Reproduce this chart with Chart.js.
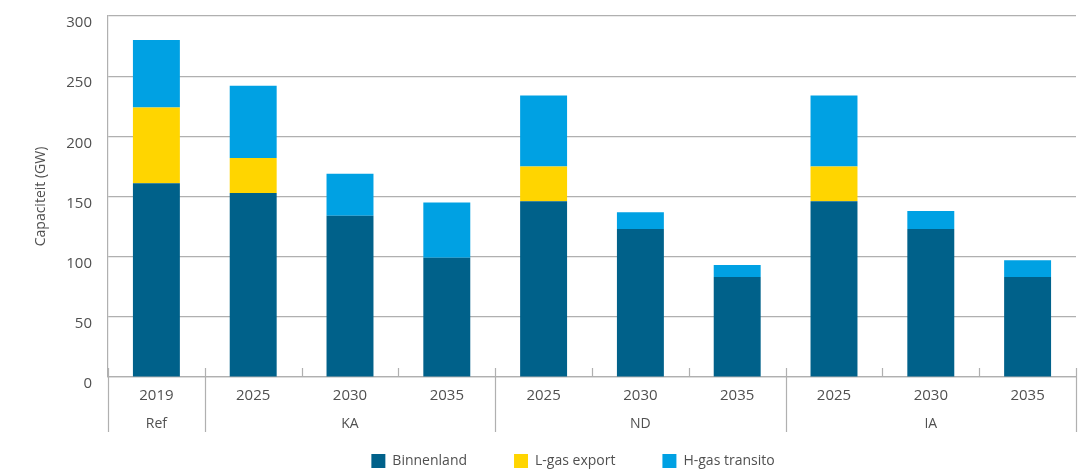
<!DOCTYPE html>
<html>
<head>
<meta charset="utf-8">
<script src="https://cdn.jsdelivr.net/npm/chart.js@4/dist/chart.umd.min.js"></script>
<style>
  html, body { margin: 0; padding: 0; background: #ffffff; }
  #wrap { width: 1078px; height: 473px; position: relative; }
</style>
</head>
<body>
<div id="wrap"><canvas id="c" width="1078" height="473"></canvas></div>
<script>
// ---- data ----
const years = ['2019', '2025', '2030', '2035', '2025', '2030', '2035', '2025', '2030', '2035'];
const groups = ['Ref', 'KA', 'KA', 'KA', 'ND', 'ND', 'ND', 'IA', 'IA', 'IA'];
const binnenland = [161, 153, 134, 99, 146, 123, 83, 146, 123, 83];
const lgasExport = [63, 29, 0, 0, 29, 0, 0, 29, 0, 0];
const hgasTransito = [56, 60, 35, 46, 59, 14, 10, 59, 15, 14];
const yTicks = [0, 50, 100, 150, 200, 250, 300];

const FONT = "'Open Sans', 'Noto Sans', sans-serif";
const TEXT = '#505050';
const GRID = '#b0b0b0';

const groupAxisPlugin = {
  id: 'groupAxis',
  afterLayout(chart) {
    // nudge the legend block slightly left, as in the reference
    if (chart.legend) { chart.legend.left -= 19; chart.legend.right -= 19; }
  },
  afterDraw(chart) {
    const ctx = chart.ctx;
    const x = chart.scales.x;
    const area = chart.chartArea;
    const n = years.length;
    const px = i => x.getPixelForValue(i);
    const boundary = i => {
      if (i === 0) return area.left;
      if (i === n) return area.right;
      return (px(i - 1) + px(i)) / 2;
    };
    ctx.save();
    ctx.strokeStyle = GRID;
    ctx.lineWidth = 1.2;
    for (let i = 0; i <= n; i++) {
      const bx = Math.round(boundary(i)) + 0.5;
      const isGroupEdge = i === 0 || i === n || groups[i] !== groups[i - 1];
      ctx.beginPath();
      ctx.moveTo(bx, area.bottom - 9);
      ctx.lineTo(bx, isGroupEdge ? area.bottom + 55 : area.bottom);
      ctx.stroke();
    }
    ctx.fillStyle = TEXT;
    ctx.font = '14px ' + FONT;
    ctx.textAlign = 'center';
    ctx.textBaseline = 'middle';
    let start = 0;
    for (let i = 1; i <= n; i++) {
      if (i === n || groups[i] !== groups[start]) {
        const cx = (px(start) + px(i - 1)) / 2;
        ctx.fillText(groups[start], cx, area.bottom + 47);
        start = i;
      }
    }
    ctx.restore();
  }
};

new Chart(document.getElementById('c'), {
  type: 'bar',
  data: {
    labels: years,
    datasets: [
      { label: 'Binnenland', data: binnenland, backgroundColor: '#00618a' },
      { label: 'L-gas export', data: lgasExport, backgroundColor: '#ffd500' },
      { label: 'H-gas transito', data: hgasTransito, backgroundColor: '#00a1e3' }
    ]
  },
  options: {
    responsive: false,
    animation: false,
    devicePixelRatio: 1,
    datasets: { bar: { categoryPercentage: 1.0, barPercentage: 0.485 } },
    layout: { padding: { top: 16, right: 2, left: 0, bottom: -5 } },
    scales: {
      x: {
        stacked: true,
        grid: { display: false, drawTicks: false },
        border: { display: true, color: GRID, width: 1.2 },
        ticks: { color: TEXT, font: { family: FONT, size: 15 }, padding: 10, maxRotation: 0, autoSkip: false },
        afterFit(s) { s.height = 30; s.paddingLeft = 0; s.paddingRight = 0; }
      },
      y: {
        stacked: true,
        min: 0, max: 300,
        afterBuildTicks(s) { s.ticks = yTicks.map(v => ({ value: v })); },
        grid: { color: GRID, lineWidth: 1.2, drawTicks: false },
        border: { display: true, color: GRID, width: 1.2 },
        ticks: { color: TEXT, font: { family: FONT, size: 15 }, padding: 16, labelOffset: 7 },
        title: { display: true, text: 'Capaciteit (GW)', color: TEXT, font: { family: FONT, size: 14 }, padding: { top: 33, bottom: 0 } },
        afterFit(s) { s.width = 108; s.paddingTop = 0; s.paddingBottom = 0; }
      }
    },
    plugins: {
      legend: {
        position: 'bottom',
        fullSize: false,
        labels: { boxWidth: 14, boxHeight: 14, padding: 47, color: TEXT, font: { family: FONT, size: 14 } }
      },
      tooltip: { enabled: false }
    }
  },
  plugins: [groupAxisPlugin]
});
</script>
</body>
</html>
